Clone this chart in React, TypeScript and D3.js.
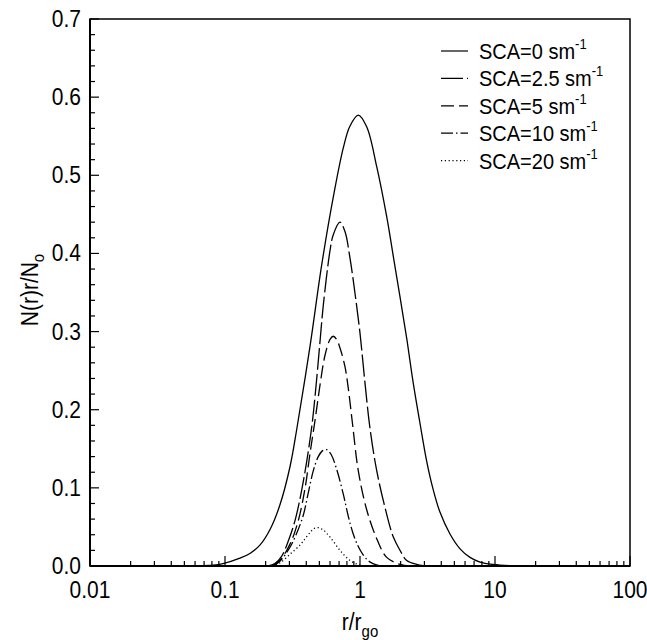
import React from 'react';
import * as d3 from 'd3';

const W = 647;
const H = 640;
const PX0 = 90, PX1 = 630, PY0 = 566, PY1 = 19;

const xTicks = [0.01, 0.1, 1, 10, 100];
const xTickLabels = ['0.01', '0.1', '1', '10', '100'];
const yTicks = [0, 0.1, 0.2, 0.3, 0.4, 0.5, 0.6, 0.7];
const yTickLabels = ['0.0', '0.1', '0.2', '0.3', '0.4', '0.5', '0.6', '0.7'];

const seriesLabels = ['SCA=0 sm', 'SCA=2.5 sm', 'SCA=5 sm', 'SCA=10 sm', 'SCA=20 sm'];

// SCA = 0
const sca0R = [0.0278, 0.055, 0.0815, 0.0966, 0.129, 0.153, 0.182, 0.216, 0.255, 0.303, 0.34, 0.427, 0.52, 0.634, 0.752, 0.843, 0.971, 1.121, 1.33, 1.577, 1.766, 1.98, 2.22, 2.47, 2.78, 3.12, 3.47, 3.91, 4.64, 5.51, 6.53, 7.74, 9.66, 12.9, 21.5];
const sca0N = [0, 0.0003, 0.001, 0.003, 0.01, 0.016, 0.027, 0.047, 0.078, 0.127, 0.175, 0.282, 0.385, 0.472, 0.535, 0.563, 0.577, 0.562, 0.511, 0.447, 0.396, 0.344, 0.291, 0.236, 0.183, 0.134, 0.099, 0.069, 0.041, 0.022, 0.011, 0.005, 0.002, 0.0005, 0];
// SCA = 2.5
const sca25R = [0.208, 0.234, 0.264, 0.293, 0.33, 0.38, 0.439, 0.478, 0.506, 0.535, 0.6, 0.634, 0.711, 0.774, 0.843, 0.918, 1.0, 1.089, 1.186, 1.33, 1.531, 1.766, 1.98, 2.22, 2.63, 3.03];
const sca25N = [0, 0.003, 0.013, 0.031, 0.058, 0.108, 0.178, 0.24, 0.288, 0.334, 0.404, 0.424, 0.44, 0.428, 0.394, 0.349, 0.298, 0.234, 0.176, 0.122, 0.075, 0.037, 0.02, 0.007, 0.002, 0];
// SCA = 5
const sca5R = [0.223, 0.255, 0.303, 0.349, 0.392, 0.427, 0.464, 0.506, 0.551, 0.6, 0.634, 0.671, 0.711, 0.774, 0.818, 0.88, 0.971, 1.121, 1.33, 1.577, 1.98, 2.34];
const sca5N = [0, 0.007, 0.028, 0.058, 0.1, 0.145, 0.186, 0.232, 0.27, 0.29, 0.294, 0.29, 0.279, 0.255, 0.228, 0.182, 0.122, 0.072, 0.035, 0.011, 0.002, 0];
// SCA = 10
const sca10R = [0.227, 0.255, 0.303, 0.336, 0.38, 0.412, 0.451, 0.491, 0.524, 0.566, 0.61, 0.671, 0.752, 0.818, 0.891, 0.971, 1.058, 1.146, 1.248, 1.406];
const sca10N = [0, 0.006, 0.024, 0.04, 0.065, 0.092, 0.122, 0.14, 0.147, 0.149, 0.143, 0.124, 0.092, 0.064, 0.041, 0.025, 0.014, 0.007, 0.003, 0];
// SCA = 20
const sca20R = [0.223, 0.255, 0.303, 0.36, 0.392, 0.427, 0.456, 0.491, 0.535, 0.6, 0.711, 0.843, 0.966, 1.089];
const sca20N = [0, 0.004, 0.015, 0.027, 0.035, 0.043, 0.048, 0.049, 0.046, 0.037, 0.02, 0.007, 0.002, 0];

const seriesR = [sca0R, sca25R, sca5R, sca10R, sca20R];
const seriesN = [sca0N, sca25N, sca5N, sca10N, sca20N];
const dashes = ['none', '22,4', '13,5', '12,3,1.5,3', '1.2,2.6'];

const FONT = "'Liberation Sans', Arial, Helvetica, sans-serif";
const SY = 1.12;

function T(props: { x: number; y: number; size: number; anchor?: string; rotate?: number; children: React.ReactNode }) {
  const { x, y, size, anchor, rotate, children } = props;
  const tr = `translate(${x},${y})${rotate ? ` rotate(${rotate})` : ''} scale(1,${SY})`;
  return (
    <text transform={tr} fontSize={size} textAnchor={anchor || 'start'}>
      {children}
    </text>
  );
}

export default function App() {
  const x = d3.scaleLog().domain([0.01, 100]).range([PX0, PX1]);
  const y = d3.scaleLinear().domain([0, 0.7]).range([PY0, PY1]);

  const line = d3
    .line<[number, number]>()
    .x((d) => x(d[0]))
    .y((d) => y(d[1]))
    .curve(d3.curveCatmullRom.alpha(0.5));

  const minorX: number[] = [];
  [0.01, 0.1, 1, 10].forEach((d) => {
    for (let k = 2; k <= 9; k++) minorX.push(d * k);
  });
  const minorY: number[] = [];
  for (let i = 0; i <= 35; i++) {
    if (i % 5 !== 0) minorY.push(i * 0.02);
  }

  const legX0 = 441, legX1 = 468, legTX = 479, legBase0 = 59, legStep = 27.4;

  return (
    <svg
      width={W}
      height={H}
      style={{ position: 'absolute', left: 0, top: 0, background: '#fff' }}
      fontFamily={FONT}
    >
      <rect x={0} y={0} width={W} height={H} fill="#fff" />
      <defs>
        <clipPath id="plotclip">
          <rect x={PX0} y={PY1} width={PX1 - PX0} height={PY0 - PY1} />
        </clipPath>
      </defs>

      {/* frame */}
      <rect x={PX0} y={PY1} width={PX1 - PX0} height={PY0 - PY1} fill="none" stroke="#000" strokeWidth={1.5} />
      <line x1={PX0} x2={PX0} y1={PY1} y2={PY0} stroke="#000" strokeWidth={2} />
      <line x1={PX0} x2={PX1} y1={PY0} y2={PY0} stroke="#000" strokeWidth={2} />

      {/* x ticks */}
      {xTicks.map((t) => (
        <line key={'xt' + t} x1={x(t)} x2={x(t)} y1={PY0} y2={PY0 - 10} stroke="#000" strokeWidth={1.2} />
      ))}
      {minorX.map((t) => (
        <line key={'xm' + t} x1={x(t)} x2={x(t)} y1={PY0} y2={PY0 - 5} stroke="#000" strokeWidth={1.2} />
      ))}
      {xTicks.map((t, i) => (
        <T key={'xl' + t} x={x(t)} y={598} size={21} anchor="middle">
          {xTickLabels[i]}
        </T>
      ))}

      {/* y ticks */}
      {yTicks.map((t) => (
        <line key={'yt' + t} x1={PX0} x2={PX0 + 9} y1={y(t)} y2={y(t)} stroke="#000" strokeWidth={1.2} />
      ))}
      {minorY.map((t) => (
        <line key={'ym' + t} x1={PX0} x2={PX0 + 5} y1={y(t)} y2={y(t)} stroke="#000" strokeWidth={1.2} />
      ))}
      {yTicks.map((t, i) => (
        <T key={'yl' + t} x={81} y={y(t) + 8} size={21} anchor="end">
          {yTickLabels[i]}
        </T>
      ))}

      {/* curves */}
      <g clipPath="url(#plotclip)">
        {seriesR.map((rs, i) => {
          const pts: [number, number][] = rs.map((r, j) => [r, seriesN[i][j]]);
          return (
            <path
              key={'s' + i}
              d={line(pts) || ''}
              fill="none"
              stroke="#000"
              strokeWidth={1.3}
              strokeDasharray={dashes[i] === 'none' ? undefined : dashes[i]}
            />
          );
        })}
      </g>

      {/* legend */}
      {seriesLabels.map((lab, i) => {
        const by = legBase0 + i * legStep;
        return (
          <g key={'lg' + i}>
            <line
              x1={legX0}
              x2={legX1}
              y1={by - 8}
              y2={by - 8}
              stroke="#000"
              strokeWidth={1.2}
              strokeDasharray={dashes[i] === 'none' ? undefined : dashes[i]}
            />
            <T x={legTX} y={by} size={20}>
              {lab}
              <tspan fontSize={13} dy={-9}>-1</tspan>
            </T>
          </g>
        );
      })}

      {/* axis titles */}
      <T x={360} y={630} size={21} anchor="middle">
        r/r<tspan fontSize={15} dy={6}>go</tspan>
      </T>
      <T x={38} y={290} size={21} anchor="middle" rotate={-90}>
        N(r)r/N<tspan fontSize={15} dy={5}>o</tspan>
      </T>
    </svg>
  );
}
